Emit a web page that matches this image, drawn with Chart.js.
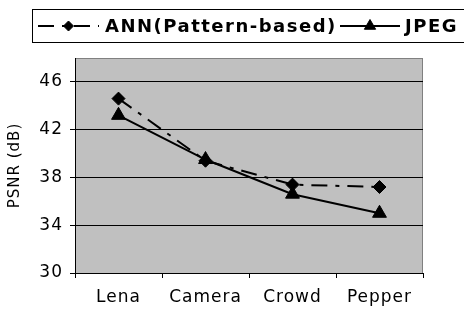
<!DOCTYPE html>
<html>
<head>
<meta charset="utf-8">
<script src="https://cdn.jsdelivr.net/npm/chart.js@4/dist/chart.umd.min.js"></script>
<style>
html,body{margin:0;padding:0;background:#fff;}
#wrap{width:464px;height:311px;position:relative;}
</style>
</head>
<body>
<div id="wrap"><canvas id="c" width="464" height="311"></canvas></div>
<script>
const categories = ['Lena', 'Camera', 'Crowd', 'Pepper'];
const annLabel = 'ANN(Pattern-based)';
const annValues = [44.6, 39.4, 37.4, 37.2];
const jpegLabel = 'JPEG';
const jpegValues = [43.2, 39.5, 36.6, 35.0];
const yTicks = [30, 34, 38, 42, 46];
const yTitle = 'PSNR (dB)';

const FONT = "'DejaVu Sans', Verdana, sans-serif";

const bgPlugin = {
  id: 'bg',
  beforeDraw(chart) {
    const ctx = chart.ctx, a = chart.chartArea;
    try { ctx.letterSpacing = '1px'; } catch (e) {}
    ctx.save();
    ctx.fillStyle = '#fff';
    ctx.fillRect(0, 0, chart.width, chart.height);
    ctx.fillStyle = '#C0C0C0';
    ctx.fillRect(a.left, a.top, a.right - a.left, a.bottom - a.top);
    ctx.strokeStyle = '#808080';
    ctx.lineWidth = 1;
    ctx.strokeRect(a.left + 0.5, a.top + 0.5, a.right - a.left - 1, a.bottom - a.top);
    ctx.restore();
  },
  afterDraw(chart) {
    const ctx = chart.ctx;
    ctx.save();
    ctx.strokeStyle = '#000';
    ctx.lineWidth = 1;
    ctx.strokeRect(32.5, 9.5, 440, 33);
    const items = [
      { ds: chart.data.datasets[0], x0: 38, x1: 99, tx: 105 },
      { ds: chart.data.datasets[1], x0: 340, x1: 400, tx: 405 }
    ];
    const y = 26;
    items.forEach(it => {
      ctx.save();
      ctx.strokeStyle = '#000';
      ctx.lineWidth = 2;
      ctx.setLineDash(it.ds.borderDash || []);
      ctx.beginPath();
      ctx.moveTo(it.x0, y);
      ctx.lineTo(it.x1, y);
      ctx.stroke();
      ctx.restore();
      ctx.fillStyle = '#000';
      ctx.strokeStyle = '#000';
      Chart.helpers.drawPoint(ctx, {
        pointStyle: it.ds.pointStyle, radius: it.ds.pointRadius - 1.5, rotation: 0, borderWidth: 1
      }, (it.x0 + it.x1) / 2, y);
      ctx.fillStyle = '#000';
      ctx.font = "bold 18px " + FONT;
      try { ctx.letterSpacing = '1.5px'; } catch (e) {}
      ctx.textBaseline = 'middle';
      ctx.textAlign = 'left';
      ctx.fillText(it.ds.label, it.tx, y + 1);
    });
    ctx.restore();
  }
};

new Chart(document.getElementById('c'), {
  type: 'line',
  data: {
    labels: categories,
    datasets: [
      {
        label: annLabel, data: annValues,
        borderColor: '#000', backgroundColor: '#000', borderWidth: 2,
        borderDash: [16, 8, 4, 8],
        pointStyle: 'rectRot', pointRadius: 6.5, pointBorderWidth: 1,
        pointBorderColor: '#000', pointBackgroundColor: '#000', tension: 0
      },
      {
        label: jpegLabel, data: jpegValues,
        borderColor: '#000', backgroundColor: '#000', borderWidth: 2,
        pointStyle: 'triangle', pointRadius: 8, pointBorderWidth: 1,
        pointBorderColor: '#000', pointBackgroundColor: '#000', tension: 0
      }
    ]
  },
  options: {
    responsive: false,
    animation: false,
    devicePixelRatio: 1,
    layout: { padding: { left: 0, top: 58, right: 41, bottom: 0 } },
    plugins: { legend: { display: false }, tooltip: { enabled: false } },
    scales: {
      x: {
        offset: true,
        grid: { offset: true, drawOnChartArea: false, color: '#000', tickLength: 5, tickColor: '#000' },
        border: { color: '#000', width: 1 },
        ticks: { color: '#000', padding: 9, maxRotation: 0, font: { family: FONT, size: 17 } },
        afterFit(s) { s.height = 38; }
      },
      y: {
        min: 30, max: 48,
        afterBuildTicks(s) { s.ticks = yTicks.map(v => ({ value: v })); },
        grid: { color: '#000', tickLength: 5, tickColor: '#000' },
        border: { color: '#000', width: 1 },
        ticks: { color: '#000', padding: 7, font: { family: FONT, size: 17 } },
        title: { display: true, text: yTitle, color: '#000', font: { family: FONT, size: 15 }, padding: { top: 6, bottom: 0 } },
        afterFit(s) { s.width = 75; }
      }
    }
  },
  plugins: [bgPlugin]
});
</script>
</body>
</html>
